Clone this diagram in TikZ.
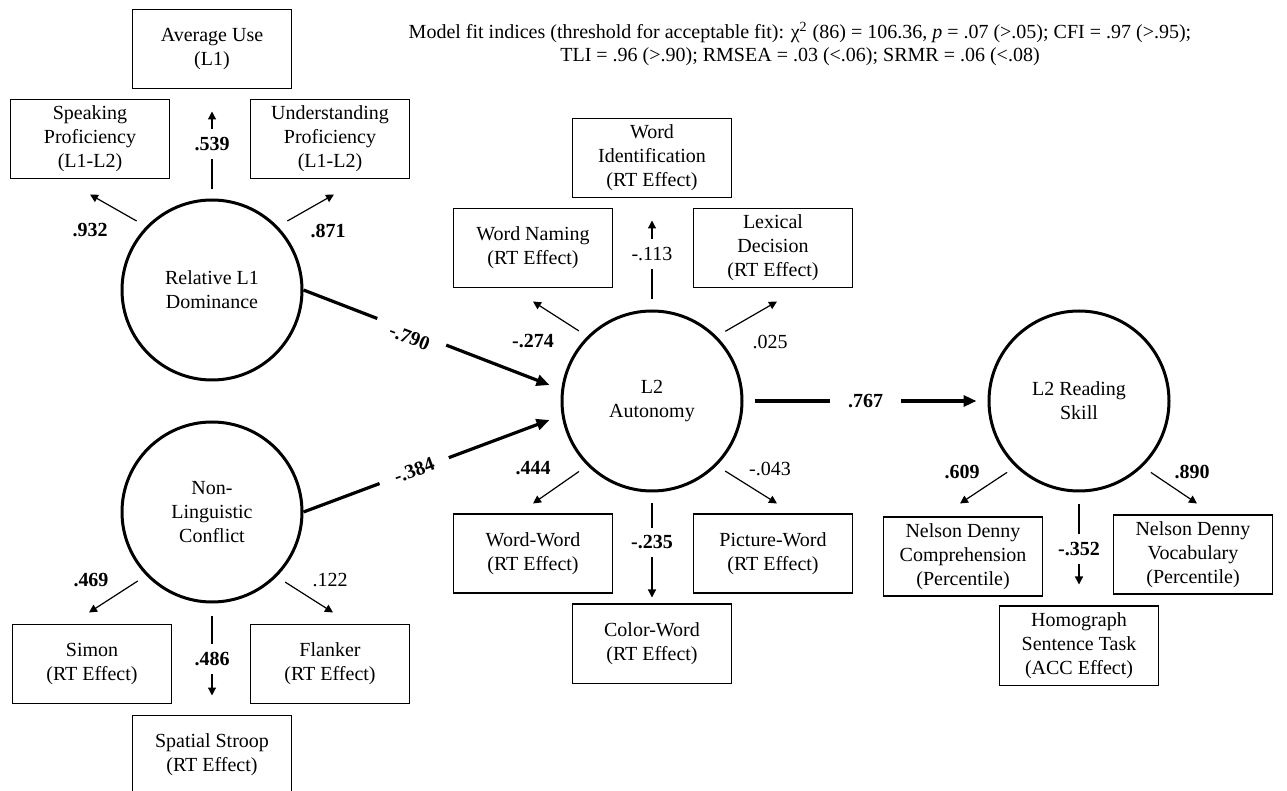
\documentclass[tikz,border=0pt]{standalone}
\usepackage{fontspec}
\setmainfont{Liberation Serif}
\usepackage{tikz}
\usetikzlibrary{arrows.meta,calc,positioning}

\begin{document}
\begin{tikzpicture}[
  x=0.5pt, y=-0.5pt,
  latent/.style   = {draw=black, circle, line width=1.5pt, minimum size=90pt,
                     align=center, font=\fontsize{10}{12}\selectfont, inner sep=0pt},
  manifest/.style = {draw=black, line width=0.9pt, minimum width=79.5pt,
                     minimum height=39.5pt, align=center,
                     font=\fontsize{10}{12}\selectfont, inner sep=2pt},
  loadarr/.style  = {-{Triangle[length=4pt,width=4pt]}, line width=0.6pt},
  patharr/.style  = {-{Triangle[length=6.5pt,width=5.5pt]}, line width=1.6pt},
  coef/.style     = {font=\fontsize{10}{12}\selectfont\bfseries, inner sep=1pt},
  coefn/.style    = {font=\fontsize{10}{12}\selectfont, inner sep=1pt},
  gap/.style      = {fill=white, inner xsep=1pt, inner ysep=4pt},
  pgap/.style     = {fill=white, inner xsep=8pt, inner ysep=1pt},
]
\useasboundingbox (0,0) rectangle (1287,791);

% model fit
\node[font=\fontsize{10}{11.5}\selectfont, align=center] (fit) at (800,44)
    {Model fit indices (threshold for acceptable fit): χ\textsuperscript{2} (86) = 106.36, \textit{p} = .07 (>.05); CFI = .97 (>.95);\\
     TLI = .96 (>.90); RMSEA = .03 (<.06); SRMR = .06 (<.08)};

% latent variables
\node[latent] (rel)  at (212,290)  {Relative L1\\Dominance};
\node[latent] (nlc)  at (212,512)  {Non-\\Linguistic\\Conflict};
\node[latent] (auto) at (652,401)  {L2\\Autonomy};
\node[latent] (read) at (1079,401) {L2 Reading\\Skill};

% relative L1 dominance
\node[manifest, above=54.5pt of rel] (avg) {Average Use\\(L1)};
\node[manifest, above=9.5pt of rel, xshift=-61pt] (speak)
    {Speaking\\Proficiency\\(L1-L2)};
\node[manifest, above=9.5pt of rel, xshift=59pt] (under)
    {Understanding\\Proficiency\\(L1-L2)};
\draw[loadarr, shorten <=4.5pt, shorten >=11pt] (rel.north) -- (avg.south)
    node[coef, gap, midway] {.539};
\draw[loadarr, shorten <=5.5pt] (rel.136) -- ($(speak.south)+(0,-7.5pt)$)
    node[coef, pos=1, yshift=-18pt] {.932};
\draw[loadarr, shorten <=5.5pt] (rel.44) -- ($(under.south)+(2pt,-7.5pt)$)
    node[coef, pos=1, xshift=-3pt, yshift=-18pt] {.871};

% non-linguistic conflict
\node[manifest, below=10pt of nlc, xshift=-60pt] (simon) {Simon\\(RT Effect)};
\node[manifest, below=10pt of nlc, xshift=59pt]  (flank) {Flanker\\(RT Effect)};
\node[manifest, below=55.5pt of nlc] (stroop) {Spatial Stroop\\(RT Effect)};
\draw[loadarr, shorten <=5pt] (nlc.224) -- ($(simon.north)+(-1.5pt,5.5pt)$)
    node[coef, pos=1, xshift=1pt, yshift=16pt] {.469};
\draw[loadarr, shorten <=5pt] (nlc.315) -- ($(flank.north)+(1.5pt,5.5pt)$)
    node[coefn, pos=1, xshift=-1.5pt, yshift=16pt] {.122};
\draw[loadarr, shorten <=6.5pt, shorten >=9.5pt] (nlc.south) -- (stroop.north)
    node[coef, gap, midway] {.486};

% L2 autonomy
\node[manifest, above=55.5pt of auto] (wid) {Word\\Identification\\(RT Effect)};
\node[manifest, above=10.5pt of auto, xshift=-59.5pt] (wnam) {Word Naming\\(RT Effect)};
\node[manifest, above=10.5pt of auto, xshift=60.5pt]  (lex)  {Lexical\\Decision\\(RT Effect)};
\node[manifest, below=10.5pt of auto, xshift=-59.5pt] (ww)   {Word-Word\\(RT Effect)};
\node[manifest, below=10.5pt of auto, xshift=60.5pt]  (pw)   {Picture-Word\\(RT Effect)};
\node[manifest, below=55.5pt of auto] (cw) {Color-Word\\(RT Effect)};
\draw[loadarr, shorten <=5pt, shorten >=11pt] (auto.north) -- (wid.south)
    node[coefn, gap, midway] {-.113};
\draw[loadarr, shorten <=5pt] (auto.135) -- ($(wnam.south)+(0,-6.5pt)$)
    node[coef, pos=1, yshift=-20pt] {-.274};
\draw[loadarr, shorten <=5pt] (auto.45) -- ($(lex.south)+(2pt,-6.5pt)$)
    node[coefn, pos=1, xshift=-3.5pt, yshift=-20pt] {.025};
\draw[loadarr, shorten <=5pt] (auto.225) -- ($(ww.north)+(0,5pt)$)
    node[coef, pos=1, yshift=17.5pt] {.444};
\draw[loadarr, shorten <=5pt] (auto.315) -- ($(pw.north)+(2pt,5pt)$)
    node[coefn, pos=1, xshift=-3.5pt, yshift=17.5pt] {-.043};
\draw[loadarr, shorten <=5.5pt, shorten >=3pt] (auto.south) -- (cw.north)
    node[coef, gap, pos=.45] {-.235};

% L2 reading skill
\node[manifest, below=12pt of read, xshift=-58pt] (ndc)
    {Nelson Denny\\Comprehension\\(Percentile)};
\node[manifest, below=11pt of read, xshift=57pt] (ndv)
    {Nelson Denny\\Vocabulary\\(Percentile)};
\node[manifest, below=56.5pt of read] (homo)
    {Homograph\\Sentence Task\\(ACC Effect)};
\draw[loadarr, shorten <=5pt] (read.226) -- ($(ndc.north)+(-1.5pt,6.5pt)$)
    node[coef, pos=1, xshift=1pt, yshift=16pt] {.609};
\draw[loadarr, shorten <=5pt] (read.314) -- ($(ndv.north)+(2pt,5.5pt)$)
    node[coef, pos=1, xshift=-2.5pt, yshift=16pt] {.890};
\draw[loadarr, shorten <=6pt, shorten >=10.5pt] (read.south) -- (homo.north)
    node[coef, gap, midway] {-.352};

% structural paths
\draw[patharr] (rel.east) -- ($(auto.west)+(-5.5pt,8pt)$)
    node[coef, pgap, sloped, pos=.44, yshift=-3pt] {-.790};
\draw[patharr] (nlc.east) -- ($(auto.west)+(-5.5pt,-9.5pt)$)
    node[coef, pgap, sloped, pos=.45] {-.384};
\draw[patharr, shorten <=5.5pt, shorten >=5.5pt] (auto.east) -- (read.west)
    node[coef, pgap, midway, inner xsep=9pt] {.767};
\end{tikzpicture}
\end{document}
